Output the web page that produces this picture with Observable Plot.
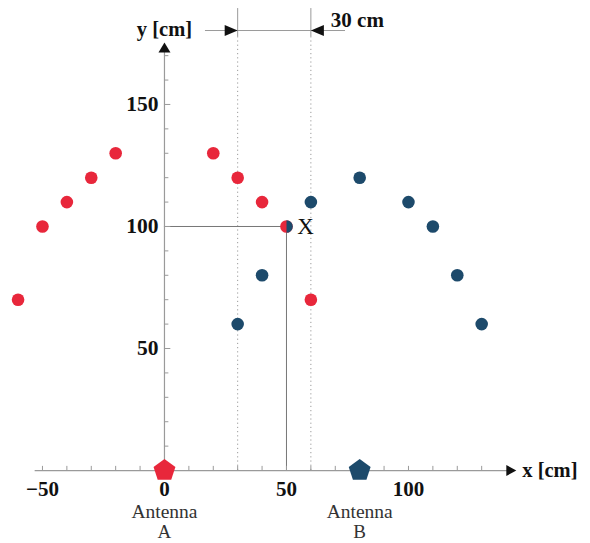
<!DOCTYPE html>
<html>
<head>
<meta charset="utf-8">
<script src="https://cdn.jsdelivr.net/npm/d3@7"></script>
<script src="https://cdn.jsdelivr.net/npm/@observablehq/plot@0.6"></script>
<style>
html,body{margin:0;padding:0;background:#fff;}
</style>
</head>
<body>
<div id="chart"></div>
<script>
// ---- data ----
const redX = [-60, -50, -40, -30, -20, 20, 30, 40, 60];
const redY = [70, 100, 110, 120, 130, 130, 120, 110, 70];
const blueX = [30, 40, 60, 80, 100, 110, 120, 130];
const blueY = [60, 80, 110, 120, 110, 100, 80, 60];
const sharedPoint = {x: 50, y: 100, label: "X"};
const antennaX = [0, 80];
const antennaNames = ["A", "B"];
const xTickValues = [-50, 0, 50, 100];
const xTickLabels = ["\u221250", "0", "50", "100"];
const yTickValues = [50, 100, 150];
const yTickLabels = ["50", "100", "150"];
const guideX = [30, 60];
const spacingLabel = "30 cm";

const RED = "#e8273b";
const BLUE = "#1d4a6b";
const GRAY = "#9a9a9a";
const FONT = "Liberation Serif, Times New Roman, serif";

const red = redX.map((x, i) => ({x, y: redY[i]}));
const blue = blueX.map((x, i) => ({x, y: blueY[i]}));
const antennas = antennaX.map((x, i) => ({x, name: antennaNames[i], color: i === 0 ? RED : BLUE}));
const xTicks = d3.range(-50, 131, 10);
const yTicks = d3.range(10, 171, 10);

// custom symbols
const pentagon = {
  draw(ctx, size) {
    const r = Math.sqrt(size / Math.PI);
    for (let i = 0; i < 5; i++) {
      const a = -Math.PI / 2 + i * 2 * Math.PI / 5;
      const px = r * Math.cos(a), py = r * Math.sin(a);
      if (i === 0) ctx.moveTo(px, py); else ctx.lineTo(px, py);
    }
    ctx.closePath();
  }
};
const rightHalf = {
  draw(ctx, size) {
    const r = Math.sqrt(size / Math.PI);
    ctx.moveTo(0, -r);
    ctx.arc(0, 0, r, -Math.PI / 2, Math.PI / 2);
    ctx.closePath();
  }
};
function arrowHead(dir, len, hw) {
  return {
    draw(ctx) {
      // tip at origin
      if (dir === "right") { ctx.moveTo(0, 0); ctx.lineTo(-len, -hw); ctx.lineTo(-len, hw); }
      if (dir === "left") { ctx.moveTo(0, 0); ctx.lineTo(len, -hw); ctx.lineTo(len, hw); }
      if (dir === "up") { ctx.moveTo(0, 0); ctx.lineTo(-hw, len); ctx.lineTo(hw, len); }
      ctx.closePath();
    }
  };
}

const xAxisEnd = 144.2, xAxisStart = -53;
const yAxisEnd = 175.4;
const guideTop = 189.3, guideSolidFrom = 177.5, dimY = 180.3;

const chart = Plot.plot({
  width: 590,
  height: 543,
  margin: 0,
  x: {domain: [-67.2, 174.6], axis: null},
  y: {domain: [-29.9, 192.6], axis: null},
  style: {fontFamily: FONT, background: "white"},
  marks: [
    // guide dotted lines
    Plot.ruleX(guideX, {y1: 0, y2: guideSolidFrom, stroke: GRAY, strokeDasharray: "1.2,3", strokeWidth: 1}),
    Plot.ruleX(guideX, {y1: guideSolidFrom, y2: guideTop, stroke: GRAY, strokeWidth: 1}),
    // dimension line
    Plot.ruleY([dimY], {x1: 16.8, x2: 74.2, stroke: GRAY, strokeWidth: 1}),
    Plot.dot([{x: guideX[0], y: dimY}], {x: "x", y: "y", symbol: arrowHead("right", 13, 5.5), fill: "#111", r: 5}),
    Plot.dot([{x: guideX[1], y: dimY}], {x: "x", y: "y", symbol: arrowHead("left", 13, 5.5), fill: "#111", r: 5}),
    Plot.text([spacingLabel], {x: guideX[1], y: dimY, text: d => d, dx: 20, dy: -10, textAnchor: "start", fontWeight: "bold", fontSize: 21, fill: "#111"}),
    // lines to X
    Plot.ruleY([sharedPoint], {y: "y", x1: 0, x2: "x", stroke: "#777", strokeWidth: 1}),
    Plot.ruleX([sharedPoint], {x: "x", y1: 0, y2: "y", stroke: "#777", strokeWidth: 1}),
    // axes
    Plot.ruleY([0], {x1: xAxisStart, x2: xAxisEnd - 2, stroke: GRAY, strokeWidth: 1.2}),
    Plot.ruleX([0], {y1: 0, y2: yAxisEnd - 2, stroke: GRAY, strokeWidth: 1.2}),
    Plot.dot([{x: xAxisEnd, y: 0}], {x: "x", y: "y", symbol: arrowHead("right", 10, 5.5), fill: "#111", r: 5}),
    Plot.dot([{x: 0, y: yAxisEnd}], {x: "x", y: "y", symbol: arrowHead("up", 10, 6), fill: "#111", r: 5}),
    // ticks
    Plot.ruleX(xTicks, {x: d => d, y1: 0, y2: 1.7, stroke: GRAY}),
    Plot.ruleY(yTicks, {y: d => d, x1: 0, x2: d => d % 50 === 0 ? 2.6 : 1.8, stroke: GRAY}),
    // tick labels
    Plot.text(xTickValues, {x: d => d, y: 0, dy: 18.5, text: (d, i) => xTickLabels[i], fontWeight: "bold", fontSize: 21, fill: "#111"}),
    Plot.text(yTickValues, {x: 0, y: d => d, dx: -6, text: (d, i) => yTickLabels[i], textAnchor: "end", fontWeight: "bold", fontSize: 21.5, fill: "#111"}),
    // axis labels
    Plot.text(["y [cm]"], {x: 0, y: yAxisEnd, dy: -13, dx: 0, text: d => d, fontWeight: "bold", fontSize: 20.5, fill: "#111"}),
    Plot.text(["x [cm]"], {x: xAxisEnd, y: 0, dx: 6, text: d => d, textAnchor: "start", fontWeight: "bold", fontSize: 20.5, fill: "#111"}),
    // data points
    Plot.dot(red, {x: "x", y: "y", r: 6.3, fill: RED}),
    Plot.dot(blue, {x: "x", y: "y", r: 6.3, fill: BLUE}),
    Plot.dot([sharedPoint], {x: "x", y: "y", r: 6.3, fill: RED}),
    Plot.dot([sharedPoint], {x: "x", y: "y", r: 6.3, fill: BLUE, symbol: rightHalf}),
    Plot.text([sharedPoint], {x: "x", y: "y", text: "label", dx: 19, fontSize: 23, fill: "#111"}),
    // antennas
    Plot.dot(antennas, {x: "x", y: 0, r: 11.5, fill: "color", symbol: pentagon}),
    Plot.text(antennas, {x: "x", y: 0, dy: 41.5, text: () => "Antenna", fontSize: 19.5, fill: "#333"}),
    Plot.text(antennas, {x: "x", y: 0, dy: 61, text: "name", fontSize: 19, fill: "#333"})
  ]
});
document.getElementById("chart").append(chart);
</script>
</body>
</html>
